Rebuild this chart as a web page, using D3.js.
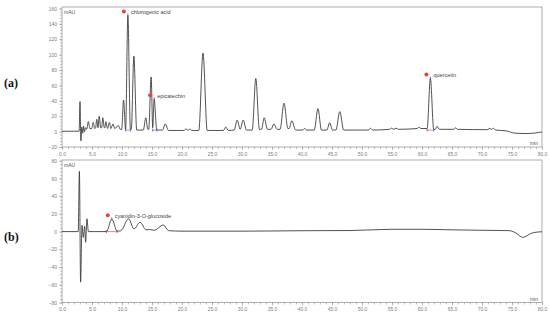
<!DOCTYPE html>
<html>
<head>
<meta charset="utf-8">
<script src="https://cdn.jsdelivr.net/npm/d3@7"></script>
<style>
    body { margin: 0; background: #fff; }
    svg { display: block; }
    .tick-label { font-family: "Liberation Sans", Arial, sans-serif; font-size: 5px; fill: #808080; }
    .unit-label { font-family: "Liberation Sans", Arial, sans-serif; font-size: 5px; fill: #555; }
    .peak-label { font-family: "Liberation Sans", Arial, sans-serif; font-size: 5.5px; fill: #444; }
    .panel-label { font-family: "Liberation Serif", "Times New Roman", serif; font-size: 12px; font-weight: bold; fill: #111; }
</style>
</head>
<body>
<div id="d3-container"></div>
<script>
// Tick values
var xTicks = [0, 5, 10, 15, 20, 25, 30, 35, 40, 45, 50, 55, 60, 65, 70, 75, 80];
var yTicksA = [-20, 0, 20, 40, 60, 80, 100, 120, 140, 160];
var yTicksB = [-80, -60, -40, -20, 0, 20, 40, 60, 80];

// Chromatogram (a): retention time (min) and signal (mAU)
var timeA = [0, 2.85, 3.0, 3.15, 3.3, 3.45, 3.6, 3.75, 3.9, 4.1, 4.4, 4.65, 4.95, 5.2, 5.45, 5.6, 5.8, 6.0, 6.2, 6.45,
    6.6, 6.8, 7.05, 7.15, 7.3, 7.6, 7.9, 8.15, 8.5, 8.8, 9.4, 9.7, 9.95, 10.26, 10.6, 10.98, 11.4, 11.55, 11.98, 12.45,
    13.55, 13.97, 14.3, 14.45, 14.86, 15.12, 15.36, 15.8, 16.75, 17.2, 17.75, 20.3, 20.7, 21.0, 21.3, 21.6, 22.8, 23.5, 24.2, 26.9,
    27.3, 27.7, 28.7, 29.2, 29.7, 30.2, 30.75, 31.7, 32.3, 32.9, 33.25, 33.7, 34.25, 34.85, 35.3, 35.85, 36.35, 37.0, 37.65, 37.85,
    38.3, 38.95, 40.1, 40.4, 40.8, 42.05, 42.65, 43.25, 44.15, 44.6, 45.1, 45.65, 46.3, 46.95, 51.1, 51.4, 51.8, 54.6, 54.9, 55.3,
    55.7, 56.1, 59.2, 59.5, 59.8, 60.85, 61.4, 61.95, 62.2, 62.5, 62.9, 65.3, 65.6, 65.9, 70.9, 71.3, 71.6, 71.9, 72.3, 74.0,
    75.5, 77.5, 80];
var signalA = [0.5, 0.5, 39, -12, 6, -2, 7, 0, 5, 3, 13, 4, 4, 12, 4, 5, 16, 5, 20, 5,
    5, 18, 5, 5, 13, 4, 12, 4, 10, 4, 8, 3, 3, 41, 3, 151, 3, 3, 98, 2,
    2, 18, 3, 3, 71, 5, 42, 2, 2, 10, 1.5, 1.5, 3.5, 1.5, 3.5, 1.5, 1.5, 102, 1.5, 1.5,
    6, 1.5, 2, 15, 3, 15, 2, 2, 69, 3, 3, 18, 3, 3, 10, 3, 3, 37, 4, 4,
    14, 2, 2, 4, 2, 2, 30, 2, 2, 11.5, 2, 2, 26, 2, 2, 4.3, 2, 3, 4.5, 3,
    4.5, 3, 4, 6, 4, 4, 69, 3, 3, 7, 3, 3, 5, 3, 2.5, 4.3, 3, 4.3, 2, 1,
    -2, -2.5, -0.5];

// Chromatogram (b)
var timeB = [0, 2.7, 2.9, 3.1, 3.33, 3.55, 3.77, 3.94, 4.16, 4.4, 7.4, 8.3, 9.2, 9.8, 11.1, 12.0, 13.0, 14.0, 14.6, 15.4,
    16.85, 17.8, 20, 30, 40, 48, 55, 60, 65, 70, 74.5, 75.5, 76.8, 78.2, 79, 80];
var signalB = [0, 0, 68, -57, 7, -6.5, 6, -12, 14.5, 0, 0, 14, 0.5, 1, 14.5, 3, 10.6, 2, 2.3, 1.5,
    7.5, 1, 0.5, 0.5, 1, 1.2, 2.6, 2.6, 2, 1.5, 1.1, -1, -6.5, -2, -0.7, -0.2];

// Identified peaks
var peakNamesA = ["chlorogenic acid", "epicatechin", "quercetin"];
var peakTimesA = [10.98, 15.36, 61.4];
var peakHeightsA = [151, 42, 69];
var peakStartA = [10.6, 15.12, 60.85];
var peakEndA = [11.4, 15.8, 61.95];

var peakNamesB = ["cyanidin-3-O-glucoside"];
var peakTimesB = [8.3];
var peakHeightsB = [14];
var peakStartB = [7.4];
var peakEndB = [9.2];

var width = 550, height = 317;

var svg = d3.select("#d3-container").append("svg")
    .attr("width", width)
    .attr("height", height);

// Draw one chromatogram panel
var drawPanel = function(cfg) {

    var g = svg.append("g");

    var x = d3.scaleLinear().domain([0, 80]).range([62, 542]);
    var y = d3.scaleLinear().domain(cfg.yDomain).range([cfg.bottom, cfg.yTopPos]);

    // Minor ticks on x axis
    g.append("g")
        .attr("transform", "translate(0," + cfg.bottom + ")")
        .call(d3.axisBottom(x).ticks(80).tickSize(2).tickFormat(""))
        .call(function(a) { a.select(".domain").remove(); a.selectAll("line").attr("stroke", "#999").attr("stroke-width", 0.6); });

    // Major ticks on x axis
    g.append("g")
        .attr("transform", "translate(0," + cfg.bottom + ")")
        .call(d3.axisBottom(x).tickValues(xTicks).tickSize(3).tickPadding(2).tickFormat(d3.format(".1f")))
        .call(function(a) {
            a.select(".domain").remove();
            a.selectAll("line").attr("stroke", "#999").attr("stroke-width", 0.6);
            a.selectAll("text").attr("class", "tick-label").attr("font-size", null).attr("font-family", null).attr("fill", null);
        });

    // Minor ticks on y axis
    var minor = d3.range(cfg.yDomain[0], cfg.yDomain[1] + 0.1, 4);
    g.append("g")
        .attr("transform", "translate(62,0)")
        .call(d3.axisLeft(y).tickValues(minor).tickSize(2).tickFormat(""))
        .call(function(a) { a.select(".domain").remove(); a.selectAll("line").attr("stroke", "#999").attr("stroke-width", 0.6); });

    // Major ticks on y axis
    g.append("g")
        .attr("transform", "translate(62,0)")
        .call(d3.axisLeft(y).tickValues(cfg.yTicks).tickSize(3).tickPadding(2))
        .call(function(a) {
            a.select(".domain").remove();
            a.selectAll("line").attr("stroke", "#999").attr("stroke-width", 0.6);
            a.selectAll("text").attr("class", "tick-label").attr("font-size", null).attr("font-family", null).attr("fill", null);
        });

    // Plot frame
    g.append("rect")
        .attr("x", 62)
        .attr("y", cfg.top)
        .attr("width", 480)
        .attr("height", cfg.bottom - cfg.top)
        .attr("fill", "none")
        .attr("stroke", "#9a9a9a")
        .attr("stroke-width", 0.8);

    // Trace
    var line = d3.line()
        .x(function(d) { return x(d[0]); })
        .y(function(d) { return y(d[1]); })
        .curve(d3.curveMonotoneX);

    g.append("path")
        .datum(d3.zip(cfg.time, cfg.signal))
        .attr("d", line)
        .attr("fill", "none")
        .attr("stroke", "#333")
        .attr("stroke-width", 0.85);

    // Peak markers and names
    cfg.names.forEach(function(name, i) {
        var px = x(cfg.peakTimes[i]), py = y(cfg.peakHeights[i]);
        var x0 = x(cfg.peakStart[i]), x1 = x(cfg.peakEnd[i]);
        var b0 = y(cfg.baseValue);

        // baseline of integration
        g.append("line")
            .attr("x1", x0).attr("y1", b0)
            .attr("x2", x1).attr("y2", b0)
            .attr("stroke", "#e0506a").attr("stroke-width", 0.7);
        [x0, x1].forEach(function(bx) {
            g.append("line")
                .attr("x1", bx).attr("y1", b0 - 1.5)
                .attr("x2", bx).attr("y2", b0 + 1.5)
                .attr("stroke", "#3a3adf").attr("stroke-width", 0.7);
        });
        // apex mark
        g.append("line")
            .attr("x1", px).attr("y1", py - 2)
            .attr("x2", px).attr("y2", py + 1)
            .attr("stroke", "#3a3adf").attr("stroke-width", 0.7);

        g.append("circle")
            .attr("cx", px - 4)
            .attr("cy", py - 4)
            .attr("r", 2)
            .attr("fill", "#e8442c");

        g.append("text")
            .attr("class", "peak-label")
            .attr("x", px + 3)
            .attr("y", py - 1.5)
            .text(name);
    });

    // Units
    g.append("text")
        .attr("class", "unit-label")
        .attr("x", 64)
        .attr("y", cfg.top + 7)
        .text("mAU");
    g.append("text")
        .attr("class", "unit-label")
        .attr("x", 538)
        .attr("y", cfg.bottom - 2)
        .attr("text-anchor", "end")
        .text("min");

    // Panel letter
    g.append("text")
        .attr("class", "panel-label")
        .attr("x", 4)
        .attr("y", cfg.labelY)
        .text(cfg.label);
};

drawPanel({
    top: 7, bottom: 147, yTopPos: 8.5,
    yDomain: [-20, 160], yTicks: yTicksA,
    time: timeA, signal: signalA,
    names: peakNamesA, peakTimes: peakTimesA, peakHeights: peakHeightsA,
    peakStart: peakStartA, peakEnd: peakEndA, baseValue: 2,
    label: "(a)", labelY: 87
});

drawPanel({
    top: 160, bottom: 302.5, yTopPos: 160.7,
    yDomain: [-80, 80], yTicks: yTicksB,
    time: timeB, signal: signalB,
    names: peakNamesB, peakTimes: peakTimesB, peakHeights: peakHeightsB,
    peakStart: peakStartB, peakEnd: peakEndB, baseValue: 0,
    label: "(b)", labelY: 241
});
</script>
</body>
</html>
